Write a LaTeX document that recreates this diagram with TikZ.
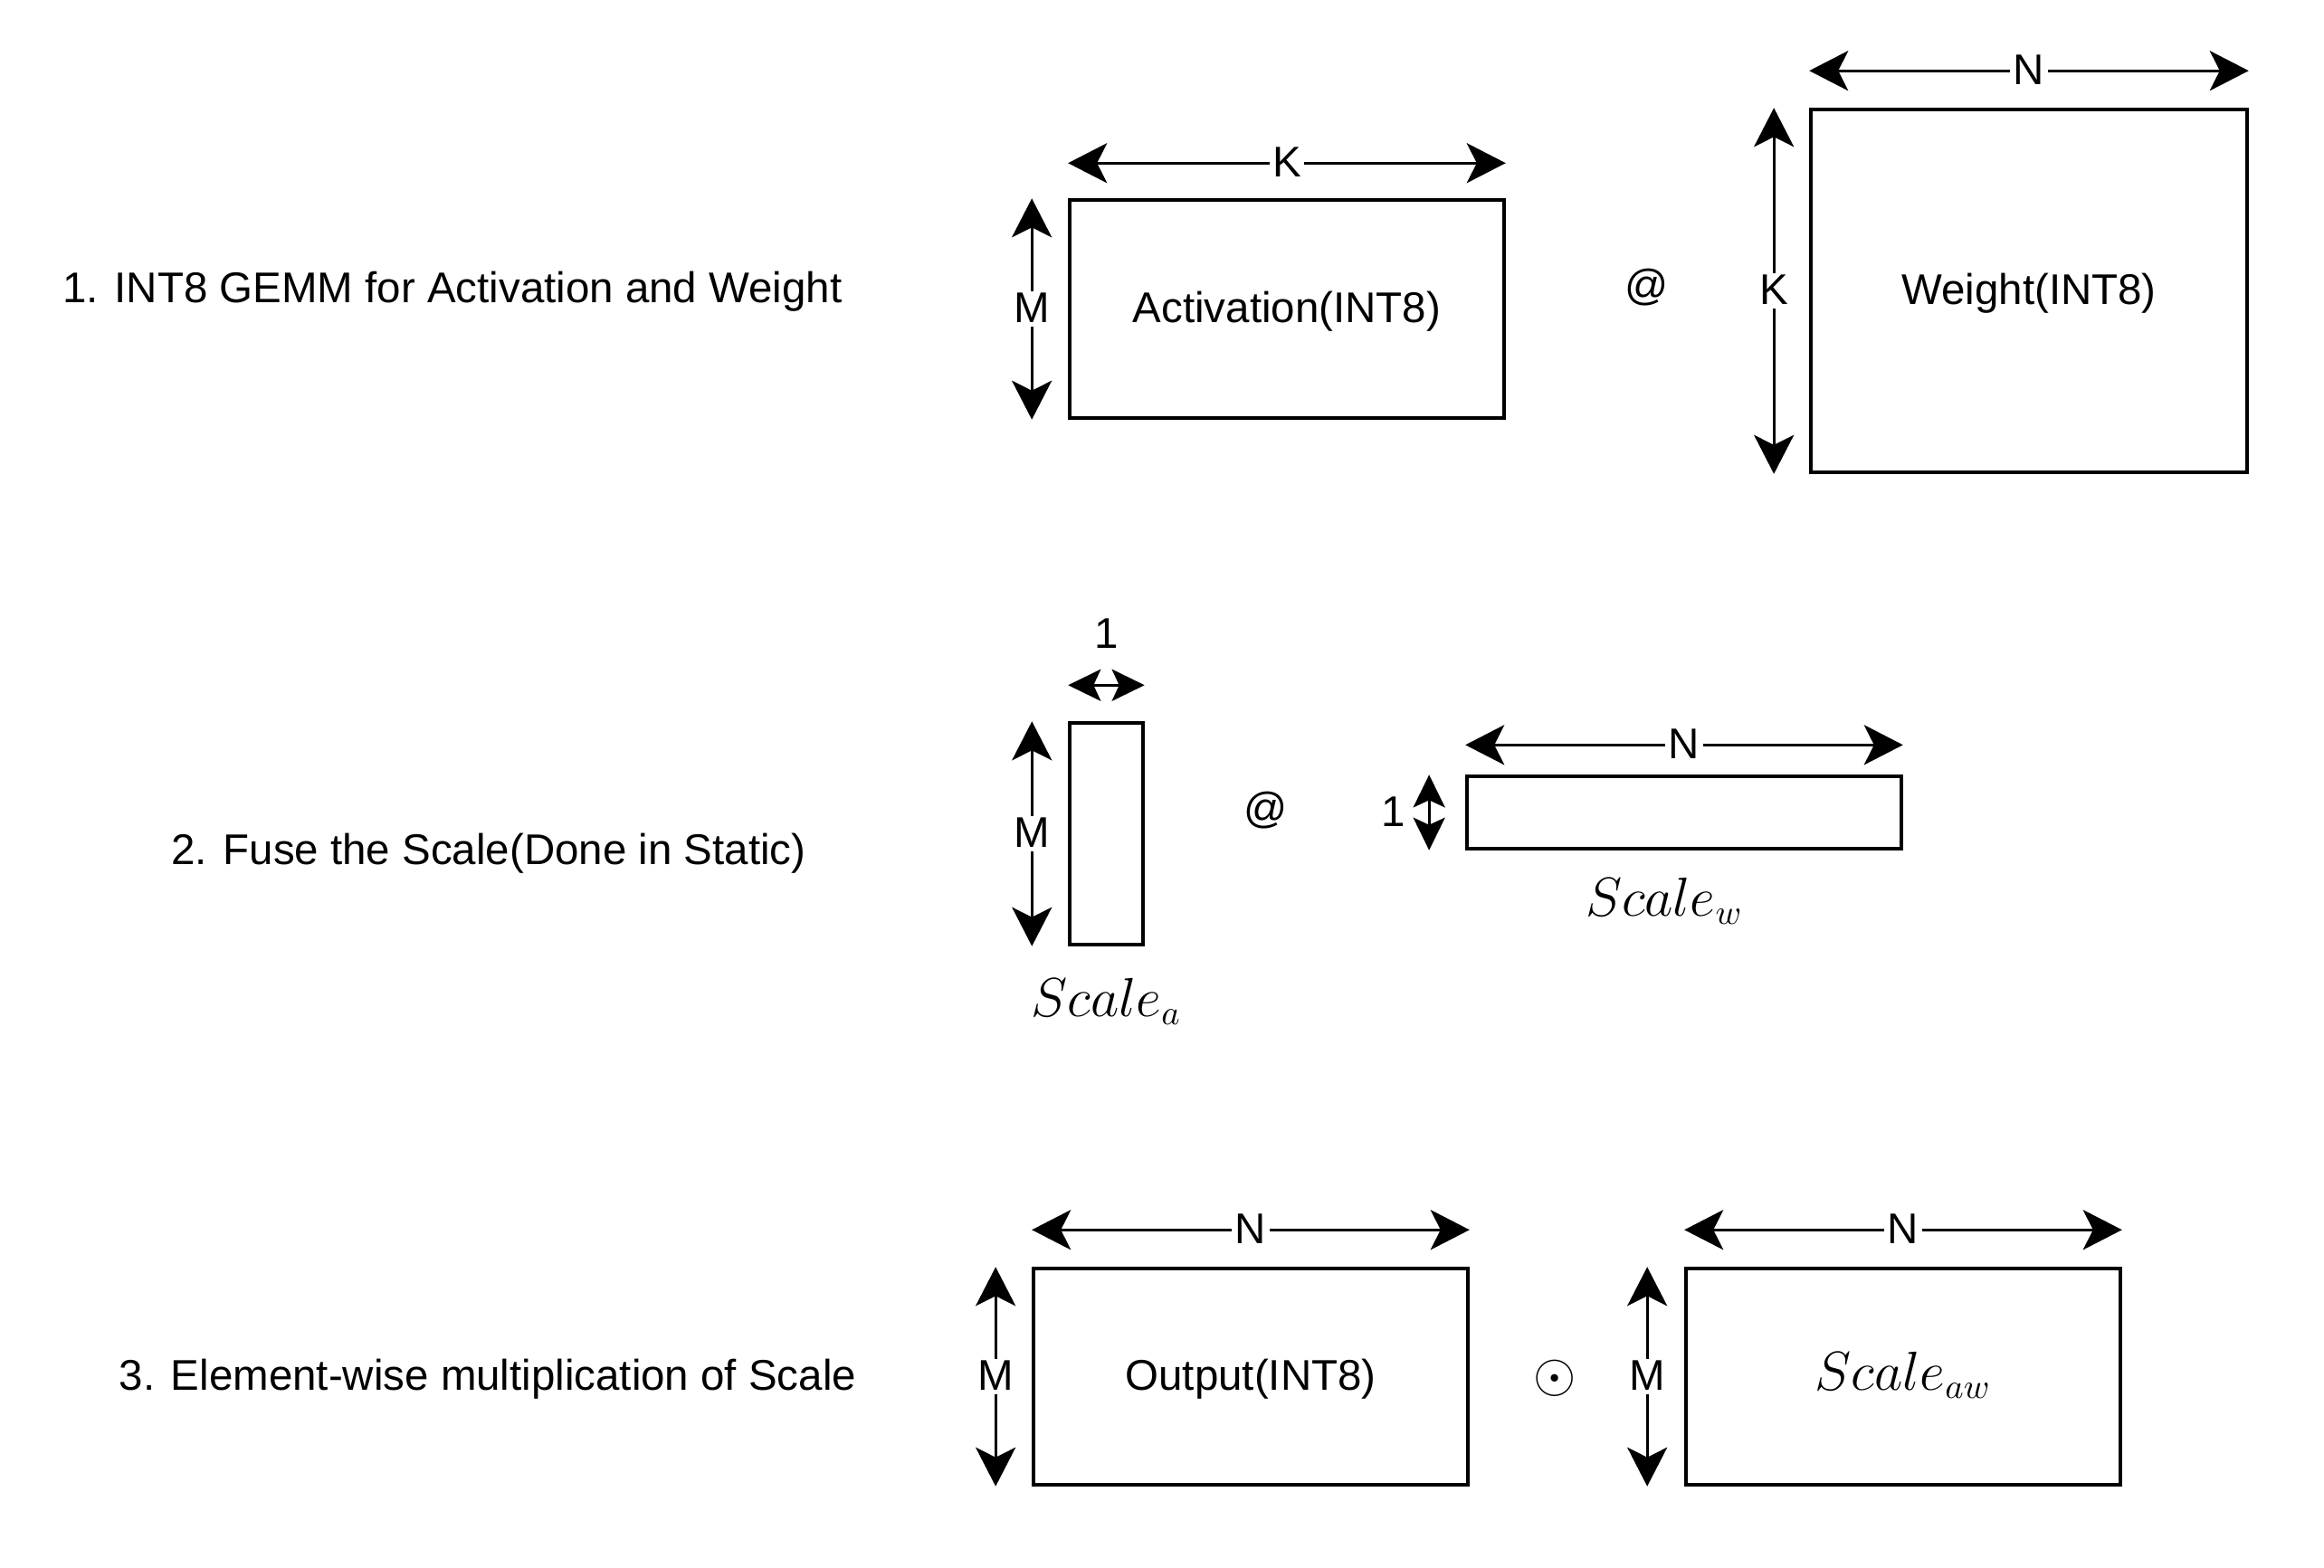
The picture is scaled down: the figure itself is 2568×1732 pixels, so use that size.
\documentclass[tikz,border=0pt]{standalone}
\usepackage{fontspec}
\setmainfont{Liberation Sans}
\usetikzlibrary{positioning, arrows.meta, calc}
\newcommand{\txtsize}{\fontsize{13.5}{16}\selectfont}
\newcommand{\mathsize}{\fontsize{16}{19}\selectfont}
\tikzset{
  matbox/.style={
    draw=black, line width=0.95pt, inner sep=0pt,
    font=\txtsize, align=center, text height=0.98em, text depth=0.12em,
  },
  dimarrow/.style={
    {Stealth[length=0.43cm, width=0.44cm, inset=0.11cm]}-{Stealth[length=0.43cm, width=0.44cm, inset=0.11cm]},
    line width=0.95pt,
  },
  unitarrow/.style={
    {Stealth[length=0.36cm, width=0.35cm, inset=0.08cm]}-{Stealth[length=0.36cm, width=0.35cm, inset=0.08cm]},
    line width=0.95pt,
  },
  dimlabel/.style={
    fill=white, inner xsep=1pt, inner ysep=0pt,
    font=\txtsize, text height=0.98em, text depth=0.12em,
  },
  steplabel/.style={font=\txtsize, inner sep=0pt, text height=0.98em, text depth=0.12em},
  mathlabel/.style={font=\mathsize, inner sep=0pt},
}

\begin{document}
\begin{tikzpicture}[x=0.01cm, y=-0.01cm]
  \useasboundingbox (0,0) rectangle (2568,1732);

  % === Step 1: INT8 GEMM ===
  \node[steplabel] (step1) at (500,319) {1. INT8 GEMM for Activation and Weight};
  \node[matbox, minimum width=4.80cm, minimum height=2.41cm] (act) at (1422,341.5) {Activation(INT8)};
  \node[matbox, minimum width=4.82cm, minimum height=4.01cm] (wgt) at (2242,321.5) {Weight(INT8)};
  \node[steplabel] (at1) at (1820,316) {@};

  \draw[dimarrow] ([yshift=0.39cm]act.north west) -- node[dimlabel] {K} ([yshift=0.39cm]act.north east);
  \draw[dimarrow] ([xshift=-0.40cm]act.north west) -- node[dimlabel] {M} ([xshift=-0.40cm]act.south west);
  \draw[dimarrow] ([yshift=0.41cm]wgt.north west) -- node[dimlabel] {N} ([yshift=0.41cm]wgt.north east);
  \draw[dimarrow] ([xshift=-0.39cm]wgt.north west) -- node[dimlabel] {K} ([xshift=-0.39cm]wgt.south west);

  % === Step 2: fused scales ===
  \node[steplabel] (step2) at (540,940) {2. Fuse the Scale(Done in Static)};
  \node[matbox, minimum width=0.81cm, minimum height=2.45cm] (sa) at (1222.5,921.5) {};
  \node[mathlabel, below=0.35cm of sa] (salbl) {$Scale_a$};
  \node[steplabel] (at2) at (1399,894) {@};
  \node[matbox, minimum width=4.80cm, minimum height=0.80cm] (sw) at (1861,898) {};
  \node[mathlabel, below=0.3cm of sw, xshift=-0.22cm] (swlbl) {$Scale_w$};

  \draw[unitarrow] ([yshift=0.40cm]sa.north west) -- node[steplabel, above=0.35cm] {1} ([yshift=0.40cm]sa.north east);
  \draw[dimarrow] ([xshift=-0.40cm]sa.north west) -- node[dimlabel] {M} ([xshift=-0.40cm]sa.south west);
  \draw[dimarrow] ([yshift=0.33cm]sw.north west) -- node[dimlabel] {N} ([yshift=0.33cm]sw.north east);
  \draw[unitarrow] ([xshift=-0.40cm]sw.north west) -- node[steplabel, left=0.25cm] {1} ([xshift=-0.40cm]sw.south west);

  % === Step 3: element-wise scaling ===
  \node[steplabel] (step3) at (539,1521) {3. Element-wise multiplication of Scale};
  \node[matbox, minimum width=4.80cm, minimum height=2.39cm] (out) at (1382,1521.5) {Output(INT8)};
  \node[mathlabel] (dot) at (1718,1523) {$\odot$};
  \node[matbox, minimum width=4.80cm, minimum height=2.39cm] (saw) at (2103,1521.5) {\mathsize$Scale_{aw}$};

  \draw[dimarrow] ([yshift=0.41cm]out.north west) -- node[dimlabel] {N} ([yshift=0.41cm]out.north east);
  \draw[dimarrow] ([xshift=-0.40cm]out.north west) -- node[dimlabel] {M} ([xshift=-0.40cm]out.south west);
  \draw[dimarrow] ([yshift=0.41cm]saw.north west) -- node[dimlabel] {N} ([yshift=0.41cm]saw.north east);
  \draw[dimarrow] ([xshift=-0.41cm]saw.north west) -- node[dimlabel] {M} ([xshift=-0.41cm]saw.south west);

\end{tikzpicture}
\end{document}
